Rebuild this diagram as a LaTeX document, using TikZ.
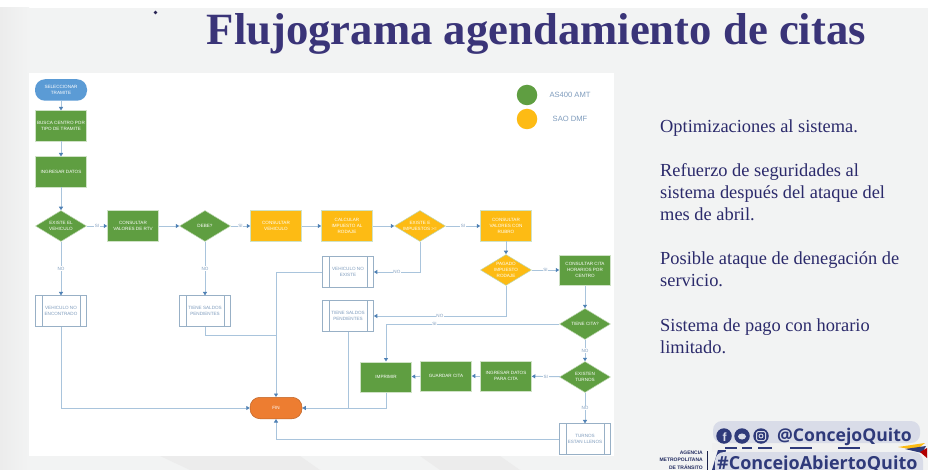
\documentclass[tikz,border=0pt]{standalone}
\usepackage{fontspec}
\setmainfont{Liberation Serif}
\setsansfont{Liberation Sans}
\newfontfamily\hashfont{Open Sans}
\usetikzlibrary{shapes.geometric,arrows.meta,calc}
\definecolor{bgcol}{HTML}{F2F3F3}
\definecolor{bgdark}{HTML}{ECECEC}
\definecolor{gr}{HTML}{5F9E41}
\definecolor{yl}{HTML}{FDBB14}
\definecolor{bl}{HTML}{5B9BD5}
\definecolor{orng}{HTML}{ED7D31}
\definecolor{ln}{HTML}{A9C4DC}
\definecolor{tip}{HTML}{4F81B5}
\definecolor{navy}{HTML}{3A3478}
\definecolor{bodyc}{HTML}{2B2A6B}
\definecolor{txtb}{HTML}{7F9CBD}
\definecolor{ftr}{HTML}{2F3A7A}
\definecolor{pill}{HTML}{D9DCE8}
\tikzset{
 x=1pt,y=-1pt,
 lab/.style={font=\sffamily\fontsize{4.6}{5.6}\selectfont,text=white,align=center,inner sep=0pt},
 proc/.style={lab,minimum width=51pt,minimum height=30.5pt,draw=white!70!gr,line width=.5pt},
 gbox/.style={proc,fill=gr},
 ybox/.style={proc,fill=yl},
 dia/.style={lab,diamond,aspect=1.65,minimum width=51pt,minimum height=31pt,draw=white!60!gr,line width=.5pt},
 gdia/.style={dia,fill=gr},
 ydia/.style={dia,fill=yl},
 term/.style={lab,rounded corners=10pt,minimum width=52pt,minimum height=21.5pt},
 sub/.style={proc,draw=ln!90!black,fill=white,text=txtb,line width=.7pt},
 conn/.style={draw=ln,line width=.9pt,-{Triangle[length=3.5pt,width=4pt,color=tip]}},
 plain/.style={draw=ln,line width=.9pt},
 tag/.style={font=\sffamily\fontsize{4.6}{5.6}\selectfont,text=txtb,fill=white,inner sep=.6pt},
 bodytxt/.style={anchor=north west,align=left,font=\fontsize{18.4}{22}\selectfont,text=bodyc,inner sep=0pt},
 pillbox/.style={fill=pill,rounded corners=9pt},
 social/.style={circle,fill=ftr,minimum size=15.5pt,inner sep=0pt},
}
\newcommand{\subbars}[1]{\draw[ln!90!black,line width=.6pt] ($(#1.north west)+(7,0)$)--($(#1.south west)+(7,0)$) ($(#1.north east)+(-7,0)$)--($(#1.south east)+(-7,0)$);}
\begin{document}
\begin{tikzpicture}
\useasboundingbox (0,0) rectangle (928,470);
\begin{scope}
\clip (0,0) rectangle (928,470);
\fill[white] (0,0) rectangle (928,470);
\fill[bgcol] (0,8) rectangle (928,470);
\shade[left color=bgdark,right color=bgcol] (0,8) rectangle (29,470);
\fill[bgdark] (160,456) -- (300,456) -- (320,470) -- (190,470) -- cycle;
\fill[bgdark] (420,456) -- (500,456) -- (520,470) -- (440,470) -- cycle;
\fill[white] (29,73) rectangle (614,456);
% title
\node[anchor=base west,inner sep=0pt,text=navy,font=\bfseries\fontsize{44.7}{46}\selectfont] (title) at (206.5,45) {Flujograma agendamiento de citas};
\fill[navy!70!black] (155.5,12.5) circle (1.8);
% nodes
\node[term,fill=bl] (start) at (61,90) {SELECCIONAR\\TRAMITE};
\node[gbox] (busca) at (61,126) {BUSCA CENTRO POR\\TIPO DE TRAMITE};
\node[gbox] (ingresar) at (61,172) {INGRESAR DATOS};
\node[gdia] (existe) at (61,226) {EXISTE EL\\VEHICULO};
\node[gbox] (rtv) at (133,226) {CONSULTAR\\VALORES DE RTV};
\node[gdia] (debe) at (205,226) {DEBE?};
\node[ybox] (cveh) at (276,226) {CONSULTAR\\VEHICULO};
\node[ybox] (calc) at (347,226) {CALCULAR\\IMPUESTO AL\\RODAJE};
\node[ydia] (exi) at (420,226) {EXISTE E\\IMPUESTOS >=};
\node[ybox] (cruc) at (506,226) {CONSULTAR\\VALORES CON\\RUBRO};
\node[ydia] (pag) at (506,270) {PAGADO\\IMPUESTO\\RODAJE};
\node[gbox] (ccita) at (585,270) {CONSULTAR CITA\\HORARIOS POR\\CENTRO};
\node[gdia] (tcita) at (585,324) {TIENE CITA?};
\node[gdia] (turn) at (585,377) {EXISTEN\\TURNOS};
\node[sub] (llenos) at (585,439) {TURNOS\\ESTAN LLENOS};
\subbars{llenos}
\node[gbox] (idat) at (506,376) {INGRESAR DATOS\\PARA CITA};
\node[gbox] (guar) at (446,376) {GUARDAR CITA};
\node[gbox] (impr) at (386,377) {IMPRIMIR};
\node[sub] (sal2) at (348,316) {TIENE SALDOS\\PENDIENTES};
\subbars{sal2}
\node[sub] (vne) at (348,272) {VEHICULO NO\\EXISTE};
\subbars{vne}
\node[sub] (venc) at (61,311) {VEHICULO NO\\ENCONTRADO};
\subbars{venc}
\node[sub] (sal1) at (205,311) {TIENE SALDOS\\PENDIENTES};
\subbars{sal1}
\node[term,fill=orng,draw=orng!80!black,line width=.5pt] (fin) at (276,408) {FIN};
% junction coordinates
\coordinate (j2) at (276,335);
\coordinate (j3) at (sal2.south |- fin.east);
% connectors
\draw[conn] (start)--(busca);
\draw[conn] (busca)--(ingresar);
\draw[conn] (ingresar)--(existe);
\draw[conn] (existe)--node[tag]{SI}(rtv);
\draw[conn] (rtv)--(debe);
\draw[conn] (debe)--node[tag]{SI}(cveh);
\draw[conn] (cveh)--(calc);
\draw[conn] (calc)--(exi);
\draw[conn] (exi)--node[tag]{SI}(cruc);
\draw[conn] (cruc)--(pag);
\draw[conn] (pag)--node[tag]{SI}(ccita);
\draw[conn] (ccita)--(tcita);
\draw[conn] (tcita)--node[tag]{NO}(turn);
\draw[conn] (turn)--node[tag,pos=.5]{NO}(llenos);
\draw[conn] (turn)--node[tag]{SI}(idat);
\draw[conn] (idat)--(guar);
\draw[conn] (guar)--(impr);
\draw[conn] (existe)--node[tag,pos=.5]{NO}(venc);
\draw[conn] (debe)--node[tag,pos=.5]{NO}(sal1);
\draw[conn] (exi.south)|-node[tag,pos=.75]{NO}(vne.east);
\draw[conn] (pag.south)|-node[tag,pos=.75]{NO}(sal2.east);
\draw[conn] (tcita.west)-|node[tag,pos=.36]{SI}(impr.north);
\draw[conn] (vne.west)-|(fin.north);
\draw[plain] (sal1.south)|-(j2);
\draw[conn] (venc.south)|-(fin.west);
\draw[plain] (sal2.south)--(j3);
\draw[conn] (impr.south)|-(fin.east);
\draw[conn] (llenos.west)-|(fin.south);
% legend
\node[circle,fill=gr,minimum size=20.5pt,inner sep=0pt] (lg) at (527,95) {};
\node[circle,fill=yl,minimum size=20.5pt,inner sep=0pt] (ly) at (527,119) {};
\node[font=\sffamily\fontsize{7.6}{9}\selectfont,text=txtb] (lgt) at (570,95) {AS400 AMT};
\node[font=\sffamily\fontsize{7.6}{9}\selectfont,text=txtb] (lyt) at (570,119) {SAO DMF};
% body text
\node[bodytxt] (t1) at (660,119.5) {Optimizaciones al sistema.};
\node[bodytxt] (t2) at (660,163.5) {Refuerzo de seguridades al\\sistema después del ataque del\\mes de abril.};
\node[bodytxt] (t3) at (660,251.5) {Posible ataque de denegación de\\servicio.};
\node[bodytxt] (t4) at (660,318.5) {Sistema de pago con horario\\limitado.};
% footer
\fill[white!94!black] (712,443) rectangle (880,452);
\foreach \a/\b in {725/737,742/752,758/772,790/812,838/860}{\draw[ftr,line width=1.4pt] (\a,448) -- (\b,448);}
\fill[yl] (898,447) -- (925,443) -- (916,450) -- cycle;
\fill[ftr] (905,449) -- (926,446) -- (922,453) -- cycle;
\fill[red!70!black] (920,452) -- (927,448) -- (927,458) -- cycle;
\fill[pillbox] (713,421) rectangle (920,443);
\fill[ftr] (718,450) -- (726,450) -- (721,470) -- (712,470) -- cycle;
\fill[pillbox] (715,452) rectangle (923,480);
\node[social] (fb) at (724,436) {};
\node[font=\bfseries\sffamily\fontsize{12}{12}\selectfont,text=pill,inner sep=0pt] (fbf) at (724.5,437) {f};
\node[social] (tw) at (742,436) {};
\fill[pill] (742,436.5) ellipse (4 and 3);
\node[social] (ig) at (761,436) {};
\draw[pill,line width=1pt,rounded corners=1.5pt] (756.5,431.5) rectangle (765.5,440.5);
\draw[pill,line width=.9pt] (761,436) circle (2);
\node[anchor=base west,inner sep=0pt,text=ftr,font=\hashfont\bfseries\fontsize{17.6}{18}\selectfont] (at) at (777,441) {@ConcejoQuito};
\node[anchor=base west,inner sep=0pt,text=ftr,font=\hashfont\bfseries\fontsize{18}{18}\selectfont] (hash) at (717,469) {\#ConcejoAbiertoQuito};
\node[anchor=base east,inner sep=0pt,align=right,text=ftr!80!black,font=\sffamily\bfseries\fontsize{5}{7.2}\selectfont] (amt) at (703,469) {AGENCIA\\METROPOLITANA\\DE TRÁNSITO};
\draw[ftr!60!black,line width=.7pt] (707,451) -- (707,470);
\end{scope}
\end{tikzpicture}
\end{document}
